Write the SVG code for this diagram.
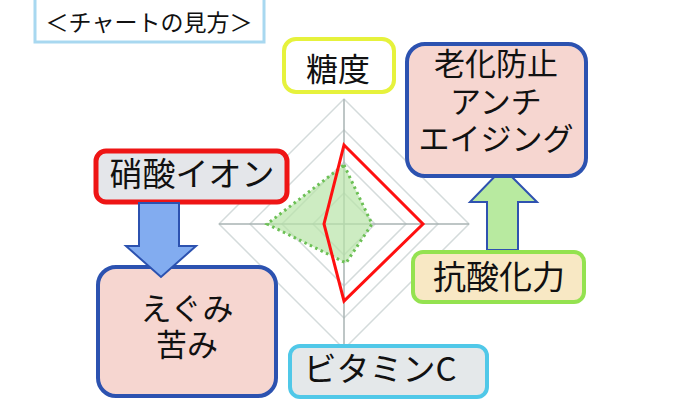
<svg xmlns="http://www.w3.org/2000/svg" width="680" height="410" viewBox="0 0 680 410">
<style>
text{font-family:"Noto Sans CJK JP","Noto Sans",sans-serif;fill:#111;text-anchor:middle}
.lbl{font-size:32px}
.grid{fill:none;stroke:#d4dbdb;stroke-width:1.5}
.axis{stroke:#a9b3b3;stroke-width:1.5}
.box{stroke-width:4}
</style>
<rect width="680" height="410" fill="#ffffff"/>
<g id="title">
<rect x="35" y="-2" width="229" height="44" fill="#ffffff" stroke="#a8d8f0" stroke-width="3"/>
<text x="149" y="31" style="font-size:23px">＜チャートの見方＞</text>
</g>
<g id="chart">
<polygon class="grid" points="344,99 469,224 344,349 219,224"/>
<polygon class="grid" points="344,130 438,224 344,318 250,224"/>
<polygon class="grid" points="344,162 406,224 344,286 282,224"/>
<polygon class="grid" points="344,193 375,224 344,255 313,224"/>
<line class="axis" x1="219" y1="224" x2="469" y2="224"/>
<line class="axis" x1="344" y1="99" x2="344" y2="349"/>
<polygon points="344,165 372,224 346,263 267,224" fill="#b8e4a8" fill-opacity="0.7" stroke="#6cc055" stroke-width="3" stroke-dasharray="2.5,3.5"/>
<polygon points="344,145 423,224 344,301 324,224" fill="none" stroke="#ff1010" stroke-width="3"/>
</g>
<g id="connectors">
<polygon points="487,250 487,202 470,202 503,168 537,202 518,202 518,250" fill="#b8eaa0" stroke="#2f52b0" stroke-width="2"/>
</g>
<g id="node-sweet">
<rect class="box" x="284" y="39" width="110" height="53" rx="12" fill="#ffffff" stroke="#e6f23c"/>
<text class="lbl" x="338" y="81">糖度</text>
</g>
<g id="node-antiaging">
<rect class="box" x="407" y="44" width="179" height="132" rx="18" fill="#f6d6d0" stroke="#2c52b0"/>
<text class="lbl" x="496" y="75" style="font-size:31px">老化防止<tspan x="496" dy="38">アンチ</tspan><tspan x="496" dy="37">エイジング</tspan></text>
</g>
<g id="node-antiox">
<rect class="box" x="413" y="252" width="171" height="50" rx="10" fill="#f8e8c4" stroke="#94e250"/>
<text class="lbl" x="499" y="289" style="font-size:33px">抗酸化力</text>
</g>
<g id="node-nitrate">
<rect class="box" x="96" y="151" width="191" height="51" rx="10" fill="#e4e6ea" stroke="#ee1515" style="stroke-width:5"/>
<text class="lbl" x="192" y="186" style="font-size:33px">硝酸イオン</text>
</g>
<g id="node-bitter">
<rect class="box" x="98" y="267" width="178" height="129" rx="18" fill="#f6d6d0" stroke="#2c52b0"/>
<text class="lbl" x="187" y="320" style="font-size:31px">えぐみ<tspan x="187" dy="36">苦み</tspan></text>
</g>
<g id="connectors-2">
<polygon points="139,203 179,203 179,246 196,246 161,277 126,246 139,246" fill="#82acf0" stroke="#2c52b0" stroke-width="2"/>
</g>
<g id="node-vitc">
<rect class="box" x="290" y="346" width="197" height="51" rx="10" fill="#e4e8ea" stroke="#50c8e8"/>
<text class="lbl" x="380" y="381" style="font-size:33px">ビタミンC</text>
</g>
</svg>
